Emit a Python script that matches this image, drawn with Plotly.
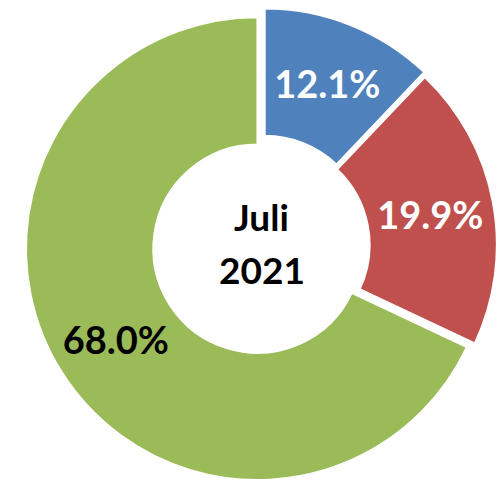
import plotly.graph_objects as go

# ----------------------------------------------------------
# Data
# ----------------------------------------------------------
categories = ["A", "B", "C"]
shares = [12.1, 19.9, 68.0]
colors = ["#4F81BD", "#C0504D", "#9BBB59"]
label_colors = ["white", "white", "black"]
center_lines = ["Juli", "2021"]

FONT = "Lato"
W, H = 504, 484

fig = go.Figure(
    go.Pie(
        labels=categories,
        values=shares,
        sort=False,
        direction="clockwise",
        rotation=0,
        hole=0.45,
        pull=[0.0259, 0.013, 0.0259],
        domain=dict(x=[0.0339, 0.9760], y=[0.0190, 1.0]),
        marker=dict(colors=colors, line=dict(color="white", width=2)),
        texttemplate="%{value:.1f}%",
        textposition="inside",
        insidetextorientation="horizontal",
        insidetextfont=dict(family=FONT, size=38, color=label_colors, weight="bold"),
        hoverinfo="label+percent",
        showlegend=False,
    )
)

# centre label, one annotation per line (wider spacing than <br>)
for line, ypx in zip(center_lines, [208, 261]):
    fig.add_annotation(
        text=line,
        x=253.5 / W, y=1 - ypx / H, xref="paper", yref="paper",
        yanchor="middle",
        showarrow=False,
        font=dict(family=FONT, size=37, color="black", weight="bold"),
    )

fig.update_layout(
    width=W,
    height=H,
    paper_bgcolor="white",
    plot_bgcolor="white",
    margin=dict(l=0, r=0, t=0, b=0),
    uniformtext=dict(minsize=38, mode="show"),
)

fig.write_html("out.html")
